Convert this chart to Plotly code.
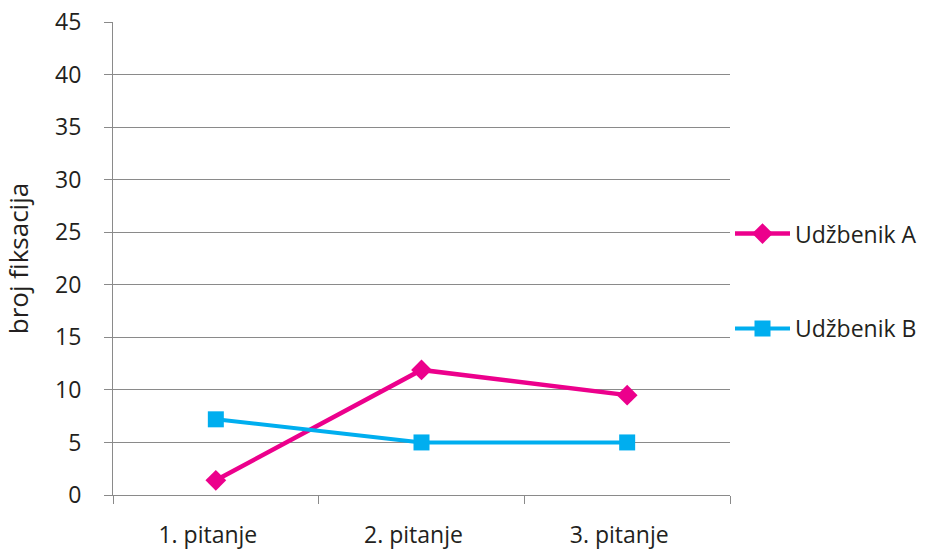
import plotly.graph_objects as go

categories = ["1. pitanje", "2. pitanje", "3. pitanje"]
udzbenik_a = [1.4, 11.9, 9.5]
udzbenik_b = [7.2, 5.0, 5.0]
y_ticks = [0, 5, 10, 15, 20, 25, 30, 35, 40, 45]

FONT = "Open Sans"
FS = 23
GRID = "#8a8a8a"
TXT = "#231f20"

fig = go.Figure()
fig.add_trace(go.Scatter(
    x=categories, y=udzbenik_a, name="Udžbenik A", mode="lines+markers",
    line=dict(color="#EC008C", width=4.5),
    marker=dict(symbol="diamond", size=16, color="#EC008C"),
    legendgroup="a",
))
fig.add_trace(go.Scatter(
    x=categories, y=udzbenik_b, name="Udžbenik B", mode="lines+markers",
    line=dict(color="#00AEEF", width=4),
    marker=dict(symbol="square", size=16, color="#00AEEF"),
    legendgroup="b",
))

fig.update_layout(
    width=925, height=551,
    margin=dict(l=113, r=195, t=22, b=56),
    paper_bgcolor="white", plot_bgcolor="white",
    font=dict(family=FONT, size=FS, color=TXT),
    showlegend=True,
    legend=dict(
        xref="container", yref="container",
        x=730 / 925, xanchor="left", y=0.615, yanchor="top",
        font=dict(family=FONT, size=FS, color=TXT),
        tracegroupgap=62, itemwidth=55,
        bgcolor="rgba(0,0,0,0)", borderwidth=0,
    ),
    xaxis=dict(
        type="category", range=[-0.5, 2.5], automargin=False,
        showgrid=False, showline=True, linecolor=GRID, linewidth=1,
        ticks="outside", tickson="boundaries", ticklen=8, tickcolor=GRID,
        ticklabelstandoff=19, ticklabelshift=-8, zeroline=False,
        tickfont=dict(family=FONT, size=FS, color=TXT),
    ),
    yaxis=dict(
        range=[0, 45], tickvals=y_ticks, automargin=False,
        showgrid=True, gridcolor=GRID, gridwidth=1,
        showline=True, linecolor=GRID, linewidth=1,
        ticks="outside", ticklen=8, tickcolor=GRID,
        ticklabelstandoff=18, zeroline=False,
        tickfont=dict(family=FONT, size=FS, color=TXT),
        title=dict(text="broj fiksacija", font=dict(family=FONT, size=26, color=TXT), standoff=19),
    ),
)

fig.write_html(
    "out.html",
    config={"displayModeBar": False},
    post_script="document.body.style.margin='0';document.body.style.overflow='hidden';",
)
